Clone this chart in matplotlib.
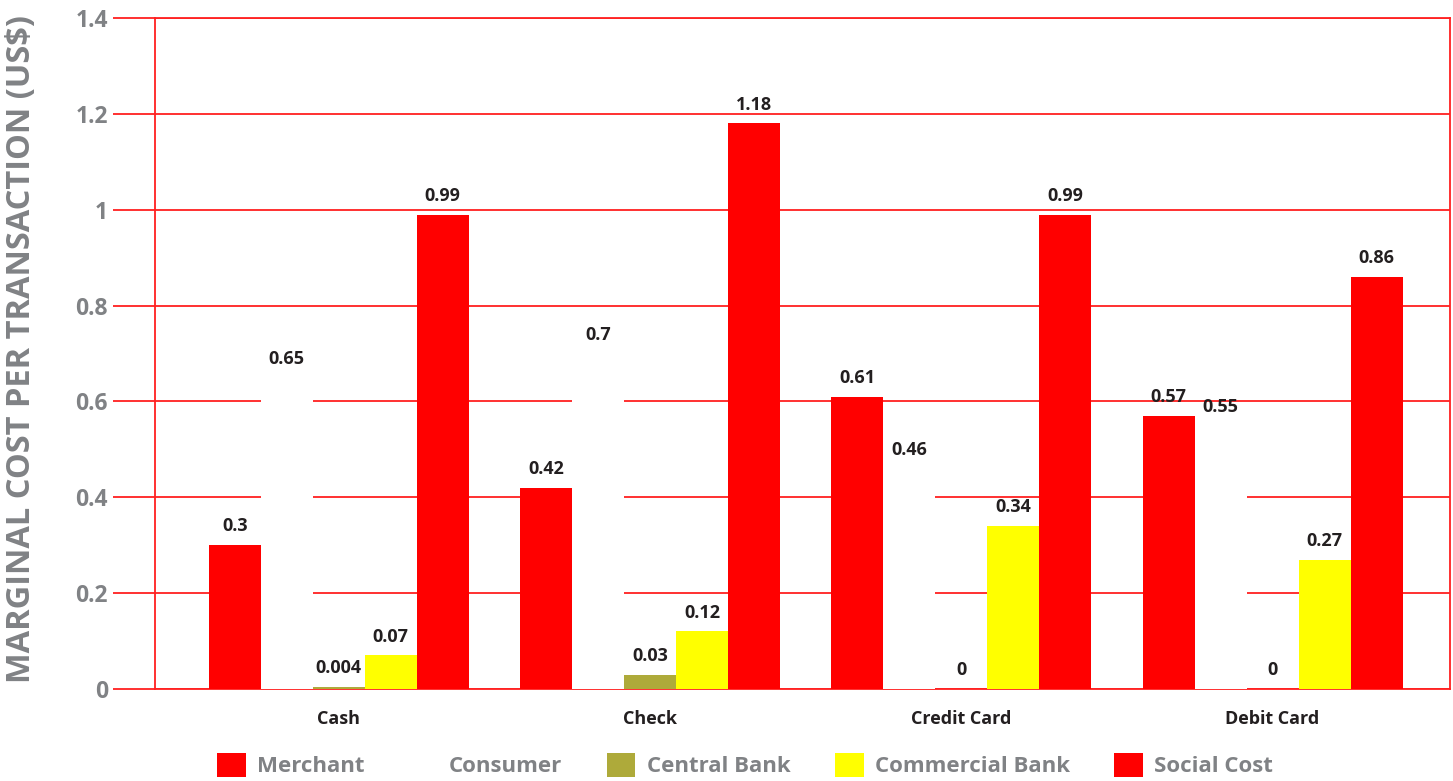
import matplotlib.pyplot as plt
import numpy as np

categories = ["Cash", "Check", "Credit Card", "Debit Card"]
series = ["Merchant", "Consumer", "Central Bank", "Commercial Bank", "Social Cost"]
merchant = [0.3, 0.42, 0.61, 0.57]
consumer = [0.65, 0.7, 0.46, 0.55]
central_bank = [0.004, 0.03, 0, 0]
commercial_bank = [0.07, 0.12, 0.34, 0.27]
social_cost = [0.99, 1.18, 0.99, 0.86]
yticks = [0, 0.2, 0.4, 0.6, 0.8, 1, 1.2, 1.4]

colors = ["#ff0000", "#ffffff", "#aeaa3a", "#ffff00", "#ff0000"]
line_red = "#ff2020"
grey = "#808285"
dark = "#231f20"

plt.rcParams['font.family'] = ['Open Sans', 'DejaVu Sans']
plt.rcParams['font.weight'] = 'bold'

fig = plt.figure(figsize=(14.53, 7.81), dpi=100)
ax = fig.add_axes([155 / 1453, 92 / 781, 1295 / 1453, 671 / 781])

x = np.arange(len(categories))
w = 0.167
data = [merchant, consumer, central_bank, commercial_bank, social_cost]
handles = []
for i, (name, vals) in enumerate(zip(series, data)):
    pos = x + (i - 2) * w
    b = ax.bar(pos, vals, w, color=colors[i], label=name, zorder=3)
    handles.append(b)
    # value label above each bar (white consumer bars included)
    for xp, v in zip(pos, vals):
        ax.annotate(f"{v:g}", (xp, v), xytext=(0, 13.5), textcoords="offset points",
                    ha="center", va="center", fontsize=13, fontweight="bold",
                    color=dark, zorder=4)

ax.set_xlim(-0.59, 3.57)
ax.set_ylim(0, 1.4)
ax.set_yticks(yticks)
ax.set_yticklabels([f"{t:g}" for t in yticks], fontsize=16.5, color=grey, fontweight="bold")
ax.set_xticks(x)
ax.set_xticklabels(categories, fontsize=13, color=dark, fontweight="bold")
ax.tick_params(axis="x", length=0, pad=15)
ax.tick_params(axis="y", length=30, width=1.3, color=line_red, pad=4)
ax.yaxis.grid(True, color=line_red, linewidth=1.3, zorder=0)
ax.set_axisbelow(True)
for s in ax.spines.values():
    s.set_color(line_red)
    s.set_linewidth(1.3)

fig.text(22 / 1453, 1 - 349 / 781, "MARGINAL COST PER TRANSACTION (US$)", rotation=90,
         ha="center", va="center", fontsize=23.5, fontweight="bold", color=grey)

fig.legend(handles=handles, loc="center", bbox_to_anchor=(745 / 1453, 1 - 765 / 781),
           ncol=5, frameon=False, labelcolor=grey,
           handlelength=1.3, handleheight=1.3, handletextpad=0.5, columnspacing=2.0,
           prop={"weight": "bold", "size": 16})

fig.savefig("out.png", dpi=100)
